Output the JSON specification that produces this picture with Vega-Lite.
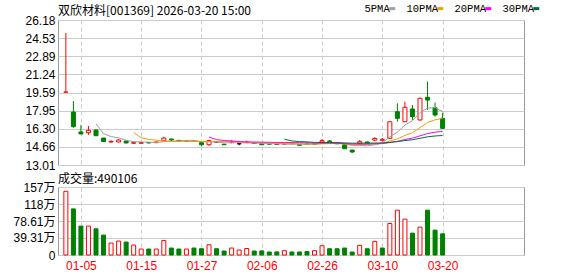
{
  "$schema": "https://vega.github.io/schema/vega-lite/v6.json",
  "background": "white",
  "padding": {"top": 3, "left": 0, "right": 0, "bottom": 0},
  "spacing": 0,
  "config": {
    "view": {"stroke": "#999999", "strokeWidth": 1},
    "axis": {"labelFont": "Liberation Sans, Noto Sans CJK SC", "labelFontSize": 12, "labelColor": "#000000", "gridColor": "#cccccc", "gridWidth": 1, "labelFlush": false, "labelOverlap": false},
    "title": {"font": "Noto Sans CJK SC", "fontSize": 12, "fontWeight": "normal", "color": "#000000", "anchor": "start", "frame": "group"}
  },
  "datasets": {
    "k": [
      {"i":0,"d":"12-30","o":19.62,"h":25.00,"l":19.62,"c":19.64,"v":1473000,"vu":1},
      {"i":1,"d":"12-31","o":17.82,"h":18.82,"l":16.40,"c":16.49,"v":1066000,"vu":0},
      {"i":2,"d":"01-05","o":16.01,"h":16.64,"l":15.80,"c":15.83,"v":668000,"vu":0},
      {"i":3,"d":"01-06","o":15.94,"h":16.55,"l":15.74,"c":16.16,"v":668000,"vu":1},
      {"i":4,"d":"01-07","o":16.19,"h":16.22,"l":15.65,"c":15.67,"v":606000,"vu":0},
      {"i":5,"d":"01-08","o":15.46,"h":15.46,"l":15.10,"c":15.14,"v":460000,"vu":0},
      {"i":6,"d":"01-09","o":15.10,"h":15.25,"l":15.04,"c":15.16,"v":276000,"vu":1},
      {"i":7,"d":"01-12","o":15.10,"h":15.37,"l":15.08,"c":15.28,"v":322000,"vu":1},
      {"i":8,"d":"01-13","o":15.19,"h":15.22,"l":14.98,"c":15.01,"v":299000,"vu":0},
      {"i":9,"d":"01-14","o":14.98,"h":15.16,"l":14.98,"c":15.04,"v":230000,"vu":1},
      {"i":10,"d":"01-15","o":14.98,"h":15.08,"l":14.94,"c":15.05,"v":138000,"vu":1},
      {"i":11,"d":"01-16","o":15.06,"h":15.08,"l":14.98,"c":15.01,"v":138000,"vu":0},
      {"i":12,"d":"01-19","o":15.04,"h":15.13,"l":15.01,"c":15.10,"v":138000,"vu":1},
      {"i":13,"d":"01-20","o":15.22,"h":15.58,"l":15.20,"c":15.46,"v":337000,"vu":1},
      {"i":14,"d":"01-21","o":15.37,"h":15.40,"l":15.19,"c":15.28,"v":161000,"vu":0},
      {"i":15,"d":"01-22","o":15.25,"h":15.28,"l":15.13,"c":15.16,"v":138000,"vu":0},
      {"i":16,"d":"01-23","o":15.16,"h":15.25,"l":15.13,"c":15.19,"v":138000,"vu":1},
      {"i":17,"d":"01-26","o":15.20,"h":15.22,"l":15.13,"c":15.16,"v":161000,"vu":0},
      {"i":18,"d":"01-27","o":15.04,"h":15.04,"l":14.71,"c":14.85,"v":145000,"vu":0},
      {"i":19,"d":"01-28","o":14.85,"h":15.31,"l":14.76,"c":15.22,"v":237000,"vu":1},
      {"i":20,"d":"01-29","o":15.13,"h":15.16,"l":15.04,"c":15.07,"v":145000,"vu":0},
      {"i":21,"d":"01-30","o":14.90,"h":14.92,"l":14.83,"c":14.85,"v":92000,"vu":0},
      {"i":22,"d":"02-02","o":15.07,"h":15.28,"l":14.98,"c":15.13,"v":161000,"vu":1},
      {"i":23,"d":"02-03","o":14.94,"h":14.96,"l":14.80,"c":14.94,"v":115000,"vu":1},
      {"i":24,"d":"02-04","o":15.07,"h":15.22,"l":14.98,"c":15.10,"v":150000,"vu":1},
      {"i":25,"d":"02-05","o":15.01,"h":15.04,"l":14.94,"c":14.96,"v":92000,"vu":0},
      {"i":26,"d":"02-06","o":14.94,"h":14.96,"l":14.83,"c":14.85,"v":95000,"vu":0},
      {"i":27,"d":"02-09","o":14.94,"h":14.96,"l":14.86,"c":14.90,"v":70000,"vu":0},
      {"i":28,"d":"02-10","o":14.92,"h":14.94,"l":14.85,"c":14.88,"v":72000,"vu":0},
      {"i":29,"d":"02-11","o":14.90,"h":15.00,"l":14.88,"c":14.96,"v":100000,"vu":1},
      {"i":30,"d":"02-12","o":14.98,"h":15.01,"l":14.90,"c":14.94,"v":70000,"vu":0},
      {"i":31,"d":"02-13","o":14.85,"h":14.88,"l":14.78,"c":14.80,"v":70000,"vu":0},
      {"i":32,"d":"02-24","o":14.92,"h":14.94,"l":14.84,"c":14.88,"v":80000,"vu":0},
      {"i":33,"d":"02-25","o":14.88,"h":14.98,"l":14.86,"c":14.94,"v":100000,"vu":1},
      {"i":34,"d":"02-26","o":15.10,"h":15.37,"l":15.01,"c":15.22,"v":214000,"vu":1},
      {"i":35,"d":"02-27","o":15.19,"h":15.28,"l":15.10,"c":15.13,"v":145000,"vu":0},
      {"i":36,"d":"03-02","o":15.04,"h":15.07,"l":14.90,"c":14.94,"v":145000,"vu":0},
      {"i":37,"d":"03-03","o":14.85,"h":14.88,"l":14.46,"c":14.49,"v":161000,"vu":0},
      {"i":38,"d":"03-04","o":14.37,"h":14.37,"l":14.10,"c":14.19,"v":69000,"vu":0},
      {"i":39,"d":"03-05","o":14.98,"h":15.28,"l":14.85,"c":15.13,"v":223000,"vu":1},
      {"i":40,"d":"03-06","o":15.10,"h":15.13,"l":14.98,"c":15.00,"v":145000,"vu":0},
      {"i":41,"d":"03-09","o":15.27,"h":15.53,"l":15.16,"c":15.42,"v":315000,"vu":1},
      {"i":42,"d":"03-10","o":15.25,"h":15.46,"l":15.16,"c":15.34,"v":161000,"vu":0},
      {"i":43,"d":"03-11","o":15.43,"h":16.97,"l":15.40,"c":16.94,"v":729000,"vu":1},
      {"i":44,"d":"03-12","o":17.85,"h":18.61,"l":16.94,"c":17.25,"v":1036000,"vu":1},
      {"i":45,"d":"03-13","o":16.94,"h":18.76,"l":16.90,"c":18.25,"v":829000,"vu":1},
      {"i":46,"d":"03-16","o":18.10,"h":18.46,"l":17.10,"c":17.40,"v":506000,"vu":0},
      {"i":47,"d":"03-17","o":17.10,"h":19.12,"l":17.05,"c":19.07,"v":644000,"vu":1},
      {"i":48,"d":"03-18","o":19.16,"h":20.58,"l":18.01,"c":18.91,"v":1036000,"vu":0},
      {"i":49,"d":"03-19","o":18.21,"h":18.69,"l":17.40,"c":17.55,"v":575000,"vu":0},
      {"i":50,"d":"03-20","o":17.25,"h":17.76,"l":16.30,"c":16.34,"v":490106,"vu":0}
    ]
  },
  "vconcat": [
    {
      "width": 466,
      "height": 145,
      "title": {"text": "双欣材料[001369] 2026-03-20 15:00", "offset": -3.5},
      "data": {"name": "k"},
      "encoding": {
        "x": {"field": "i", "type": "quantitative", "title": null,
              "scale": {"domain": [-0.38, 60.14], "nice": false, "zero": false},
              "axis": {"values": [2, 10, 18, 26, 34, 42, 50], "labels": false, "ticks": false, "domain": false, "grid": true, "gridDash": [4, 3], "minExtent": 0, "maxExtent": 0}}
      },
      "layer": [
        {
          "mark": {"type": "rule", "strokeWidth": 1},
          "encoding": {
            "y": {"field": "l", "type": "quantitative", "title": null,
                  "scale": {"domain": [13.01, 26.18], "nice": false, "zero": false},
                  "axis": {"values": [13.01, 14.66, 16.30, 17.95, 19.59, 21.24, 22.89, 24.53, 26.18], "format": ".2f", "ticks": false, "domain": false, "grid": true, "labelOverlap": false, "labelPadding": 3, "minExtent": 57, "maxExtent": 57}},
            "y2": {"field": "h"},
            "color": {"condition": [{"test": "datum.c > datum.o", "value": "#ff0000"}, {"test": "datum.c < datum.o", "value": "#008000"}], "value": "#000000"}
          }
        },
        {
          "mark": {"type": "bar", "orient": "vertical", "size": 4, "strokeWidth": 1},
          "encoding": {
            "y": {"field": "o", "type": "quantitative", "title": null,
                  "scale": {"domain": [13.01, 26.18], "nice": false, "zero": false},
                  "axis": {"values": [13.01, 14.66, 16.30, 17.95, 19.59, 21.24, 22.89, 24.53, 26.18], "format": ".2f", "ticks": false, "domain": false, "grid": true, "labelOverlap": false, "labelPadding": 3, "minExtent": 57, "maxExtent": 57}},
            "y2": {"field": "c"},
            "fill": {"condition": [{"test": "datum.c > datum.o", "value": "#ffffff"}, {"test": "datum.c < datum.o", "value": "#008000"}], "value": "#000000"},
            "stroke": {"condition": [{"test": "datum.c > datum.o", "value": "#ff0000"}, {"test": "datum.c < datum.o", "value": "#008000"}], "value": "#000000"}
          }
        },
        {
          "transform": [
            {"window": [{"op": "mean", "field": "c", "as": "5PMA"}], "frame": [-4, 0], "sort": [{"field": "i"}]},
            {"window": [{"op": "mean", "field": "c", "as": "10PMA"}], "frame": [-9, 0], "sort": [{"field": "i"}]},
            {"window": [{"op": "mean", "field": "c", "as": "20PMA"}], "frame": [-19, 0], "sort": [{"field": "i"}]},
            {"window": [{"op": "mean", "field": "c", "as": "30PMA"}], "frame": [-29, 0], "sort": [{"field": "i"}]},
            {"fold": ["5PMA", "10PMA", "20PMA", "30PMA"], "as": ["key", "val"]},
            {"filter": "(datum.key=='5PMA'&&datum.i>=4)||(datum.key=='10PMA'&&datum.i>=9)||(datum.key=='20PMA'&&datum.i>=19)||(datum.key=='30PMA'&&datum.i>=29)"}
          ],
          "mark": {"type": "line", "strokeWidth": 1},
          "encoding": {
            "y": {"field": "val", "type": "quantitative", "title": null,
                  "scale": {"domain": [13.01, 26.18], "nice": false, "zero": false},
                  "axis": {"values": [13.01, 14.66, 16.30, 17.95, 19.59, 21.24, 22.89, 24.53, 26.18], "format": ".2f", "ticks": false, "domain": false, "grid": true, "labelOverlap": false, "labelPadding": 3, "minExtent": 57, "maxExtent": 57}},
            "color": {"field": "key", "type": "nominal",
                      "scale": {"domain": ["5PMA", "10PMA", "20PMA", "30PMA"], "range": ["#a0a0a0", "#f0a000", "#ff00ff", "#006f3c"]},
                      "legend": {"orient": "none", "legendX": 302, "legendY": -17, "direction": "horizontal", "title": null, "padding": 0,
                                 "symbolType": "M10,0H12", "symbolSize": 36, "symbolStrokeWidth": 3, "symbolOpacity": 1,
                                 "labelFont": "Liberation Mono", "labelFontSize": 10.5, "labelColor": "#000000",
                                 "labelAlign": "left", "labelOffset": -6, "columnPadding": -20,
                                 "encode": {"symbols": {"update": {"shape": {"signal": "datum.value == '5PMA' ? 'M8,0H10' : 'M10,0H12'"}}}}}}
          }
        }
      ]
    },
    {
      "width": 466,
      "height": 68,
      "title": {"text": "成交量:490106", "offset": -5},
      "data": {"name": "k"},
      "mark": {"type": "bar", "orient": "vertical", "size": 4, "strokeWidth": 1},
      "encoding": {
        "x": {"field": "i", "type": "quantitative", "title": null,
              "scale": {"domain": [-0.38, 60.14], "nice": false, "zero": false},
              "axis": {"values": [2, 10, 18, 26, 34, 42, 50], "ticks": false, "domain": false, "grid": true, "gridDash": [4, 3], "labelColor": "#ff0000", "labelPadding": 5,
                       "labelExpr": "datum.value==2?'01-05':datum.value==10?'01-15':datum.value==18?'01-27':datum.value==26?'02-06':datum.value==34?'02-26':datum.value==42?'03-10':'03-20'"}},
        "y": {"field": "v", "type": "quantitative", "title": null,
              "scale": {"domain": [0, 1572200], "nice": false, "zero": true},
              "axis": {"values": [0, 393100, 786100, 1179150, 1572200], "ticks": false, "domain": false, "grid": true, "labelOverlap": false, "labelPadding": 3, "minExtent": 57, "maxExtent": 57,
                       "labelExpr": "datum.value == 0 ? '0' : (datum.value >= 1000000 ? format(datum.value/10000, '.0f') : format(datum.value/10000, '.2f')) + '万'"}},
        "fill": {"condition": {"test": "datum.vu == 1", "value": "#ffffff"}, "value": "#008000"},
        "stroke": {"condition": {"test": "datum.vu == 1", "value": "#ff0000"}, "value": "#008000"}
      }
    }
  ]
}
